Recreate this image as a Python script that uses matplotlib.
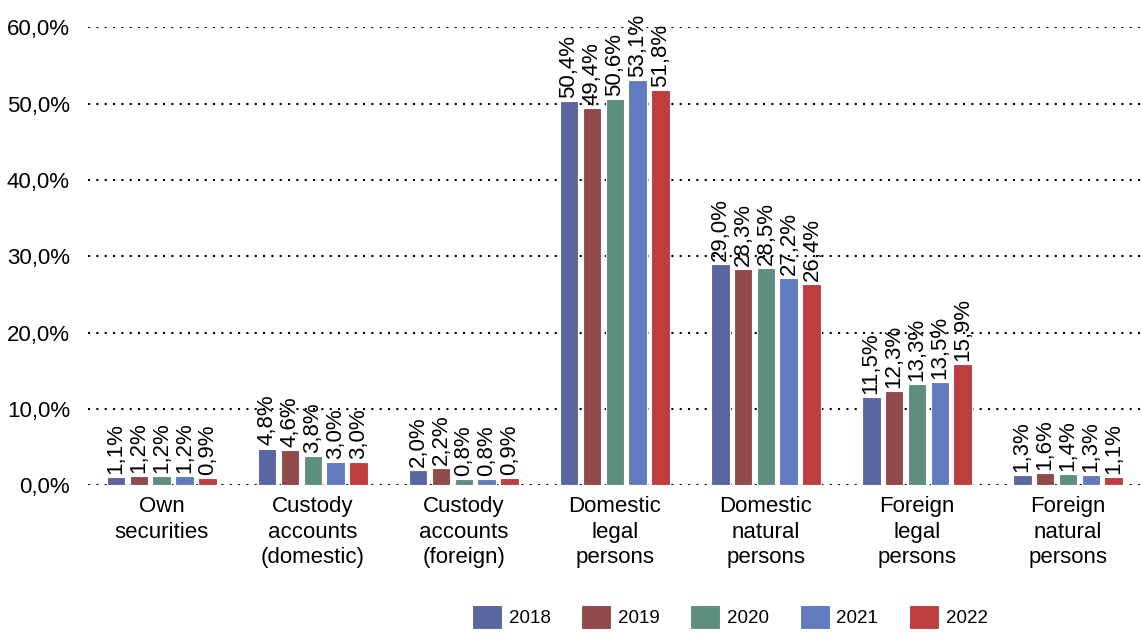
import numpy as np
import matplotlib.pyplot as plt

plt.rcParams['font.family'] = ['Liberation Sans', 'DejaVu Sans']

categories = ["Own\nsecurities", "Custody\naccounts\n(domestic)", "Custody\naccounts\n(foreign)",
              "Domestic\nlegal\npersons", "Domestic\nnatural\npersons", "Foreign\nlegal\npersons",
              "Foreign\nnatural\npersons"]
years = ["2018", "2019", "2020", "2021", "2022"]
v2018 = [1.1, 4.8, 2.0, 50.4, 29.0, 11.5, 1.3]
v2019 = [1.2, 4.6, 2.2, 49.4, 28.3, 12.3, 1.6]
v2020 = [1.2, 3.8, 0.8, 50.6, 28.5, 13.3, 1.4]
v2021 = [1.2, 3.0, 0.8, 53.1, 27.2, 13.5, 1.3]
v2022 = [0.9, 3.0, 0.9, 51.8, 26.4, 15.9, 1.1]
series = [v2018, v2019, v2020, v2021, v2022]
colors = ["#5A66A0", "#904A4A", "#5E8E80", "#627BBE", "#BE3E40"]

fig = plt.figure(figsize=(11.42, 6.35), dpi=100)
ax = fig.add_axes([0.077, 0.236, 0.923, 0.721])

x = np.arange(len(categories))
step = 0.152
width = 0.125
fs = 16

for i, (vals, c, yr) in enumerate(zip(series, colors, years)):
    pos = x + (i - 2) * step
    ax.bar(pos, vals, width=width, color=c, edgecolor="white", linewidth=0.8, label=yr, zorder=3)
    for px, v in zip(pos, vals):
        ax.text(px, v + 0.4, f"{v:.1f}%".replace(".", ","), rotation=90,
                ha="center", va="bottom", fontsize=fs, zorder=4)

ax.set_xlim(-0.49, 6.49)
ax.set_ylim(0, 60)
ax.set_yticks(np.arange(0, 61, 10))
ax.set_yticklabels([f"{t:.1f}%".replace(".", ",") for t in np.arange(0, 61, 10)], fontsize=fs)
ax.set_xticks(x)
ax.set_xticklabels(categories, fontsize=fs, linespacing=1.27)
ax.tick_params(length=0, axis="y", pad=13)
ax.tick_params(length=0, axis="x", pad=8)
for s in ax.spines.values():
    s.set_visible(False)
ax.yaxis.grid(True, color="black", linestyle=(0, (1, 3)), linewidth=1.5, zorder=0)
ax.set_axisbelow(True)

fig.legend(loc="center left", bbox_to_anchor=(0.4133, 0.028), ncol=5, frameon=False,
           fontsize=13.5, handlelength=1.6, handleheight=1.6, handletextpad=0.37,
           columnspacing=1.62, borderaxespad=0, borderpad=0)

fig.savefig("out.png", dpi=100)
